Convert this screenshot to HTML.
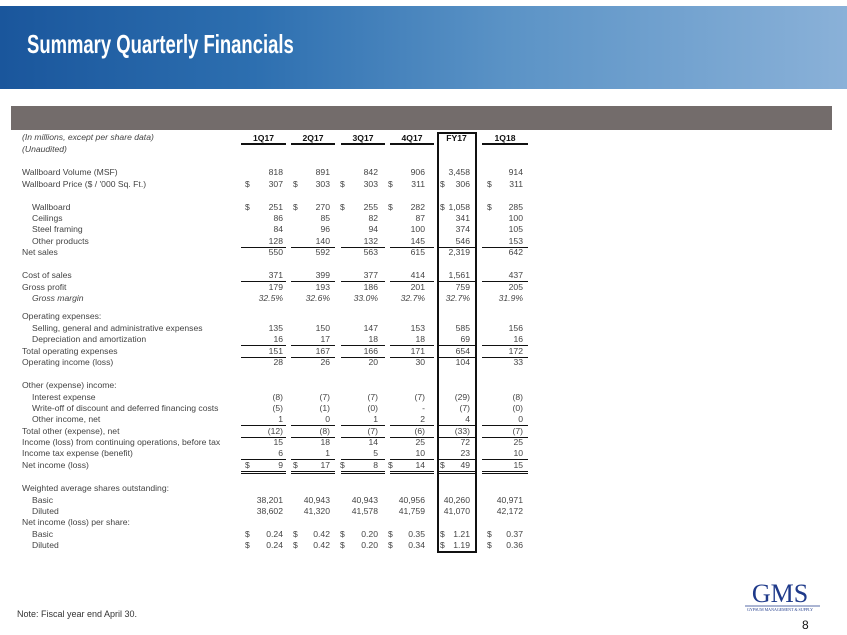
<!DOCTYPE html>
<html><head><meta charset="utf-8">
<style>
body{margin:0;width:847px;height:635px;position:relative;overflow:hidden;background:#fff;font-family:"Liberation Sans",sans-serif;}
#banner{position:absolute;left:0;top:6px;width:847px;height:83px;background:linear-gradient(90deg,#1a569c 0%,#2d6fb0 30%,#5b93c6 60%,#8ab1d8 100%);}
#title{position:absolute;left:27px;top:29px;color:#fff;font-weight:bold;font-size:26px;transform:scaleX(0.71);transform-origin:left top;white-space:nowrap;}
#graybar{position:absolute;left:11px;top:106px;width:821px;height:24px;background:#736c6b;}
.t{position:absolute;font-size:8.6px;color:#444;white-space:nowrap;line-height:11px;}
.r{text-align:right;}
.h{font-weight:bold;color:#111;text-align:center;width:44px;}
.ln{position:absolute;background:#111;height:1.5px;}
#box{position:absolute;left:437px;top:132px;width:36px;height:417px;border:2px solid #111;}
#note{position:absolute;left:17px;top:609px;font-size:9px;color:#333;}
#page{position:absolute;left:802px;top:618px;font-size:12px;color:#111;}
</style></head><body>
<div id="banner"></div>
<div id="title">Summary Quarterly Financials</div>
<div id="graybar"></div>
<div id="box"></div>
<div id="tbl"></div>
<div id="note">Note: Fiscal year end April 30.</div>
<svg style="position:absolute;left:730px;top:578px" width="100" height="35">
<text x="50" y="24" text-anchor="middle" font-family="Liberation Serif,serif" font-size="26" fill="#1f3a8a">GMS</text>
<line x1="15" y1="28" x2="90" y2="28" stroke="#1f3a8a" stroke-width="0.8"/>
<text x="50" y="33" text-anchor="middle" font-family="Liberation Serif,serif" font-size="4" fill="#1f3a8a">GYPSUM MANAGEMENT &amp; SUPPLY</text>
</svg>
<div id="page">8</div>
<script>
const headers=["1Q17","2Q17","3Q17","4Q17","FY17","1Q18"];
const rows=[
["(In millions, except per share data)",0,137,null,"i"],
["(Unaudited)",0,149,null,"i"],
["Wallboard Volume (MSF)",0,172,["818","891","842","906","3,458","914"]],
["Wallboard Price ($ / '000 Sq. Ft.)",0,184,["307","303","303","311","306","311"],"",[1,1,1,1,1,1]],
["Wallboard",1,207,["251","270","255","282","1,058","285"],"",[1,1,1,1,1,1]],
["Ceilings",1,218,["86","85","82","87","341","100"]],
["Steel framing",1,229,["84","96","94","100","374","105"]],
["Other products",1,241,["128","140","132","145","546","153"],"",null,1],
["Net sales",0,252,["550","592","563","615","2,319","642"]],
["Cost of sales",0,275,["371","399","377","414","1,561","437"],"",null,1],
["Gross profit",0,287,["179","193","186","201","759","205"]],
["Gross margin",1,298,["32.5%","32.6%","33.0%","32.7%","32.7%","31.9%"],"i"],
["Operating expenses:",0,316,null],
["Selling, general and administrative expenses",1,328,["135","150","147","153","585","156"]],
["Depreciation and amortization",1,339,["16","17","18","18","69","16"],"",null,1],
["Total operating expenses",0,351,["151","167","166","171","654","172"],"",null,1],
["Operating income (loss)",0,362,["28","26","20","30","104","33"]],
["Other (expense) income:",0,385,null],
["Interest expense",1,397,["(8)","(7)","(7)","(7)","(29)","(8)"]],
["Write-off of discount and deferred financing costs",1,408,["(5)","(1)","(0)","-","(7)","(0)"]],
["Other income, net",1,419,["1","0","1","2","4","0"],"",null,1],
["Total other (expense), net",0,431,["(12)","(8)","(7)","(6)","(33)","(7)"],"",null,1],
["Income (loss) from continuing operations, before tax",0,442,["15","18","14","25","72","25"]],
["Income tax expense (benefit)",0,453,["6","1","5","10","23","10"],"",null,1],
["Net income (loss)",0,465,["9","17","8","14","49","15"],"",[1,1,1,1,1,0],2],
["Weighted average shares outstanding:",0,488,null],
["Basic",1,500,["38,201","40,943","40,943","40,956","40,260","40,971"]],
["Diluted",1,511,["38,602","41,320","41,578","41,759","41,070","42,172"]],
["Net income (loss) per share:",0,522,null],
["Basic",1,534,["0.24","0.42","0.20","0.35","1.21","0.37"],"",[1,1,1,1,1,1]],
["Diluted",1,545,["0.24","0.42","0.20","0.34","1.19","0.36"],"",[1,1,1,1,1,1]]
];
const colRight=[283,330,378,425,470,523];
const colDollar=[245,293,340,388,440,487];
const lineL=[241,291,341,390,437,482];
const lineR=[286,335,385,434,476,528];
const tbl=document.getElementById('tbl');
function add(txt,x,y,cls,w){const d=document.createElement('div');d.className='t '+(cls||'');d.textContent=txt;d.style.top=(y-5.5)+'px';
if(w){d.style.left=(x-w)+'px';d.style.width=w+'px';}else d.style.left=x+'px';


tbl.appendChild(d);return d;}
function line(x1,x2,y,h){const l=document.createElement('div');l.className='ln';l.style.left=x1+'px';l.style.width=(x2-x1)+'px';l.style.top=y+'px';if(h)l.style.height=h+'px';


tbl.appendChild(l);}
headers.forEach((h,i)=>{const d=add(h,(lineL[i]+lineR[i])/2+22,138.5,'h',44);

if(i!=4)line(lineL[i],lineR[i],143,2);});
rows.forEach(r=>{const [lab,ind,y,vals,st,dol,ul]=r;
const d=add(lab,ind?32:22,y);if(st==='i')d.style.fontStyle='italic';

if(vals)vals.forEach((v,i)=>{const c=add(v,colRight[i],y,'r',60);if(st==='i')c.style.fontStyle='italic';
if(dol&&dol[i])add('$',colDollar[i],y);});
if(ul){colRight.forEach((_,i)=>line(lineL[i],lineR[i],y+5.5,1.6));
if(ul===2)colRight.forEach((_,i)=>line(lineL[i],lineR[i],y+8,1));}
});
</script>
</body></html>
